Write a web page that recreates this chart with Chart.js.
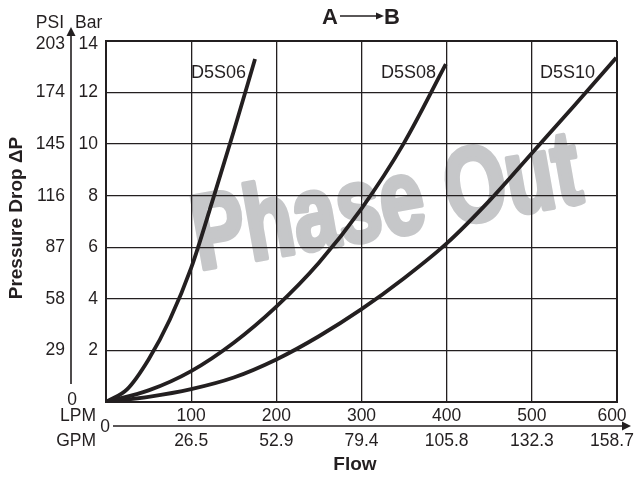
<!DOCTYPE html>
<html>
<head>
<meta charset="utf-8">
<script src="https://cdn.jsdelivr.net/npm/chart.js@4/dist/chart.umd.min.js"></script>
<style>
  body { margin: 0; background: #fff; }
  canvas { display: block; }
</style>
</head>
<body>
<canvas id="chart" width="637" height="477"></canvas>
<script>
// values
const lpmTicks = [100, 200, 300, 400, 500, 600];
const gpmTicks = ["26.5", "52.9", "79.4", "105.8", "132.3", "158.7"];
const barTicks = [2, 4, 6, 8, 10, 12, 14];
const psiTicks = ["0", "29", "58", "87", "116", "145", "174", "203"];

const d5s06Flow = [0, 25, 50, 75, 100, 125, 150, 175];
const d5s06Bar  = [0, 0.5, 1.65, 3.2, 5.2, 7.8, 10.5, 13.3];

const d5s08Flow = [0, 50, 100, 150, 200, 250, 300, 350, 399];
const d5s08Bar  = [0, 0.45, 1.2, 2.3, 3.7, 5.4, 7.5, 10.05, 13.1];

const d5s10Flow = [0, 50, 100, 150, 200, 250, 300, 350, 400, 450, 500, 550, 599];
const d5s10Bar  = [0, 0.2, 0.5, 0.95, 1.65, 2.55, 3.6, 4.8, 6.15, 7.8, 9.65, 11.5, 13.35];

const seriesNames = ["D5S06", "D5S08", "D5S10"];

const INK = "#231f20";
const FONT = "'Liberation Sans', Arial, sans-serif";

function toPoints(xs, ys) { return xs.map((x, i) => ({ x, y: ys[i] })); }

function lineSet(label, xs, ys) {
  return {
    label,
    data: toPoints(xs, ys),
    showLine: true,
    borderColor: INK,
    borderWidth: 3.8,
    pointRadius: 0,
    cubicInterpolationMode: "monotone",
    fill: false
  };
}

const watermark = {
  id: "watermark",
  beforeDraw(chart) {
    const ctx = chart.ctx;
    ctx.save();
    ctx.fillStyle = "#fff";
    ctx.fillRect(0, 0, chart.width, chart.height);
    ctx.translate(387, 207);
    ctx.rotate(-10 * Math.PI / 180);
    ctx.font = "bold 106px " + FONT;
    const w = ctx.measureText("Phase Out").width;
    ctx.scale(392 / w, 1);
    ctx.fillStyle = "#c6c7c9";
    ctx.strokeStyle = "#c6c7c9";
    ctx.lineWidth = 5;
    ctx.lineJoin = "round";
    ctx.textAlign = "center";
    ctx.textBaseline = "middle";
    ctx.fillText("Phase Out", 0, 0);
    ctx.strokeText("Phase Out", 0, 0);
    ctx.restore();
  }
};

const labels = {
  id: "labels",
  afterDraw(chart) {
    const ctx = chart.ctx;
    const xs = chart.scales.x, ys = chart.scales.y;
    const yAt = v => ys.getPixelForValue(v) + (v === 14 ? 3 : 0);
    const xAt = v => Math.min(xs.getPixelForValue(v), 612);
    ctx.save();
    ctx.fillStyle = INK;
    ctx.strokeStyle = INK;
    ctx.font = "17.5px " + FONT;
    ctx.textBaseline = "middle";

    // Bar column and PSI column
    ctx.textAlign = "right";
    barTicks.forEach(v => ctx.fillText(String(v), 98, yAt(v)));
    psiTicks.forEach((t, i) => {
      if (i === 0) return;
      ctx.fillText(t, 65, yAt(i * 2));
    });
    ctx.textAlign = "center";
    ctx.fillText(psiTicks[0], 72, 400);
    ctx.textAlign = "right";
    ctx.fillText("PSI", 64, 23);
    ctx.textAlign = "left";
    ctx.fillText("Bar", 75, 23);

    // vertical axis with arrow
    ctx.lineWidth = 1.6;
    ctx.beginPath();
    ctx.moveTo(71, 384);
    ctx.lineTo(71, 34);
    ctx.stroke();
    ctx.beginPath();
    ctx.moveTo(71, 27);
    ctx.lineTo(66.5, 36);
    ctx.lineTo(75.5, 36);
    ctx.closePath();
    ctx.fill();

    // LPM and GPM rows
    ctx.textAlign = "center";
    lpmTicks.forEach(v => ctx.fillText(String(v), xAt(v), 416));
    gpmTicks.forEach((t, i) => ctx.fillText(t, xAt(lpmTicks[i]), 441));
    ctx.textAlign = "right";
    ctx.fillText("LPM", 96, 416);
    ctx.fillText("GPM", 96, 441);
    ctx.fillText("0", 110, 427);

    ctx.beginPath();
    ctx.moveTo(113, 426);
    ctx.lineTo(622, 426);
    ctx.stroke();
    ctx.beginPath();
    ctx.moveTo(631, 426);
    ctx.lineTo(622, 421.5);
    ctx.lineTo(622, 430.5);
    ctx.closePath();
    ctx.fill();

    // series names
    ctx.font = "18px " + FONT;
    ctx.textAlign = "right";
    ctx.fillText(seriesNames[0], 246, 73);
    ctx.fillText(seriesNames[1], 436, 73);
    ctx.fillText(seriesNames[2], 595, 73);

    // axis titles
    ctx.font = "bold 19px " + FONT;
    ctx.textAlign = "center";
    ctx.fillText("Flow", 355, 465);
    ctx.save();
    ctx.translate(17, 218);
    ctx.rotate(-Math.PI / 2);
    ctx.fillText("Pressure Drop ΔP", 0, 0);
    ctx.restore();

    // A -> B
    ctx.font = "bold 22px " + FONT;
    ctx.textAlign = "left";
    ctx.fillText("A", 322, 18);
    ctx.fillText("B", 384, 18);
    ctx.lineWidth = 1.5;
    ctx.beginPath();
    ctx.moveTo(340, 16);
    ctx.lineTo(377, 16);
    ctx.stroke();
    ctx.beginPath();
    ctx.moveTo(384, 16);
    ctx.lineTo(376, 12.5);
    ctx.lineTo(376, 19.5);
    ctx.closePath();
    ctx.fill();
    ctx.restore();
  }
};

function gridWidth(ctx, max) {
  const v = ctx.tick ? ctx.tick.value : null;
  return (v === 0 || v === max) ? 2 : 1.3;
}

new Chart(document.getElementById("chart"), {
  type: "scatter",
  data: {
    datasets: [
      lineSet(seriesNames[0], d5s06Flow, d5s06Bar),
      lineSet(seriesNames[1], d5s08Flow, d5s08Bar),
      lineSet(seriesNames[2], d5s10Flow, d5s10Bar)
    ]
  },
  options: {
    responsive: false,
    animation: false,
    devicePixelRatio: 1,
    layout: { padding: { left: 106, right: 20, top: 41, bottom: 75 } },
    plugins: { legend: { display: false }, tooltip: { enabled: false } },
    scales: {
      x: {
        type: "linear", min: 0, max: 600,
        ticks: { display: false, stepSize: 100 },
        grid: { color: INK, lineWidth: c => gridWidth(c, 600), drawTicks: false },
        border: { color: INK, width: 2 }
      },
      y: {
        type: "linear", min: 0, max: 14,
        ticks: { display: false, stepSize: 2 },
        grid: { color: INK, lineWidth: c => gridWidth(c, 14), drawTicks: false },
        border: { color: INK, width: 2 }
      }
    }
  },
  plugins: [watermark, labels]
});
</script>
</body>
</html>
